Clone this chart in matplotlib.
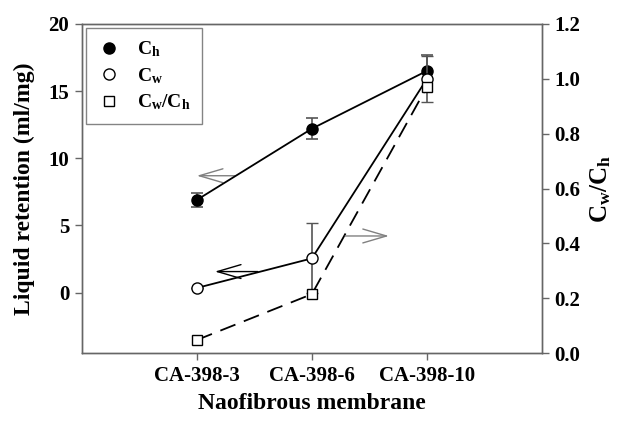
import matplotlib
matplotlib.use("Agg")
import matplotlib.pyplot as plt
from matplotlib.lines import Line2D

plt.rcParams["font.family"] = "Liberation Serif"
plt.rcParams["font.weight"] = "bold"
plt.rcParams["mathtext.fontset"] = "custom"
plt.rcParams["mathtext.rm"] = "Liberation Serif:bold"
plt.rcParams["mathtext.it"] = "Liberation Serif:bold"
plt.rcParams["mathtext.bf"] = "Liberation Serif:bold"

membranes = ["CA-398-3", "CA-398-6", "CA-398-10"]
ch = [6.9, 12.2, 16.5]
ch_err = [0.55, 0.8, 1.2]
cw = [0.35, 2.55, 15.9]
cw_err = [0.0, 2.6, 1.7]
ratio = [0.048, 0.215, 0.97]

pos = [1, 2, 3]
spine_col = "#666666"
err_col = "#555555"

fig = plt.figure(figsize=(6.2, 4.26), dpi=100)
ax = fig.add_axes([0.132, 0.171, 0.742, 0.773])
ax2 = ax.twinx()

ax.errorbar(pos, ch, yerr=ch_err, color="black", lw=1.3, marker="o",
            ms=8, mfc="black", mec="black", ecolor=err_col, elinewidth=1.2,
            capsize=4, capthick=1.2, zorder=3)
ax.errorbar(pos, cw, yerr=cw_err, color="black", lw=1.3, marker="o",
            ms=8, mfc="white", mec="black", mew=1, ecolor=err_col,
            elinewidth=1.2, capsize=4, capthick=1.2, zorder=4)
ax2.plot(pos, ratio, color="black", lw=1.3, ls=(0, (9, 5)), marker="s",
         ms=7.5, mfc="white", mec="black", mew=1)

ax.set_xlim(0, 4)
ax.set_ylim(-4.5, 20)
ax.set_yticks([0, 5, 10, 15, 20])
ax.set_xticks(pos)
ax.set_xticklabels(membranes)
ax2.set_ylim(0, 1.2)
ax2.set_yticks([0.0, 0.2, 0.4, 0.6, 0.8, 1.0, 1.2])
ax2.set_yticklabels(["%.1f" % v for v in ax2.get_yticks()])

for a in (ax, ax2):
    for s in a.spines.values():
        s.set_color(spine_col)
        s.set_linewidth(1.0)
    a.tick_params(direction="out", length=5, width=1, color=spine_col,
                  labelsize=15, pad=4)

ax.set_ylabel("Liquid retention (ml/mg)", fontsize=17, fontweight="bold",
              labelpad=10)
ax.set_xlabel("Naofibrous membrane", fontsize=17, fontweight="bold",
              labelpad=5)
ax2.set_ylabel(r"C$_\mathrm{w}$/C$_\mathrm{h}$", fontsize=18,
               fontweight="bold", labelpad=6)

# pointer arrows to the relevant axis
arrow_style = "->,head_length=1.7,head_width=0.5"
ax.annotate("", xy=(1.0, 8.7), xytext=(1.33, 8.7),
            arrowprops=dict(arrowstyle=arrow_style, color="#808080", lw=1,
                            shrinkA=0, shrinkB=0))
ax.annotate("", xy=(1.157, 1.57), xytext=(1.53, 1.57),
            arrowprops=dict(arrowstyle=arrow_style, color="black", lw=1,
                            shrinkA=0, shrinkB=0))
ax2.annotate("", xy=(2.67, 0.427), xytext=(2.29, 0.427),
             arrowprops=dict(arrowstyle=arrow_style, color="#808080", lw=1,
                             shrinkA=0, shrinkB=0))

handles = [
    Line2D([], [], ls="none", marker="o", ms=8, mfc="black", mec="black"),
    Line2D([], [], ls="none", marker="o", ms=8, mfc="white", mec="black"),
    Line2D([], [], ls="none", marker="s", ms=7.5, mfc="white", mec="black"),
]
labels = [r"C$_\mathrm{h}$", r"C$_\mathrm{w}$",
          r"C$_\mathrm{w}$/C$_\mathrm{h}$"]
leg = ax.legend(handles, labels, loc="upper left",
                bbox_to_anchor=(0.009, 0.988), borderaxespad=0,
                fontsize=14, frameon=True, fancybox=False, labelspacing=0.35,
                handlelength=1.2, handletextpad=0.8, borderpad=0.6)
leg.get_frame().set_edgecolor(spine_col)
leg.get_frame().set_linewidth(1)

fig.savefig("out.png", dpi=100)
